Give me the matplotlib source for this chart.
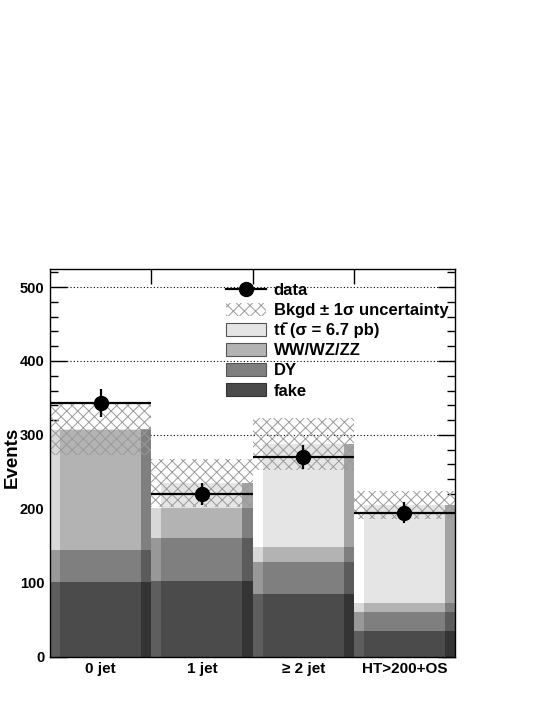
import numpy as np
import matplotlib
matplotlib.use("Agg")
from matplotlib import pyplot as plt
from matplotlib.patches import Patch
from matplotlib.lines import Line2D

plt.rcParams['font.family'] = ['Liberation Sans', 'DejaVu Sans']
plt.rcParams['font.weight'] = 'bold'
plt.rcParams['hatch.linewidth'] = 0.7

# bins and stacked backgrounds (events)
categories = ['0 jet', '1 jet', '\u2265 2 jet', 'HT>200+OS']
fake = [101, 102, 85, 35]
dy = [44, 59, 43, 25]
ww = [161, 40, 21, 13]
ttbar = [2, 34, 139, 132]
bkg_unc = [35, 33, 35, 19]
data = [343, 220, 270, 195]

# (values, main colour, left strip, right strip)
stack = [
    (fake, '#4b4b4b', '#5e5e5e', '#343434'),
    (dy, '#7f7f7f', '#989898', '#5b5b5b'),
    (ww, '#b3b3b3', '#d8d8d8', '#7f7f7f'),
    (ttbar, '#e5e5e5', '#ffffff', '#a3a3a3'),
]
hatch_col = '#9a9a9a'

fig = plt.figure(figsize=(5.45, 7.05), dpi=100)
ax = fig.add_axes([0.0917, 0.0685, 0.7433, 0.5495])

x = np.arange(len(categories)) + 0.5
bottom = np.zeros(len(categories))
for vals, c, cl, cd in stack:
    vals = np.array(vals, dtype=float)
    ax.bar(x, vals, width=1.0, bottom=bottom, color=c, linewidth=0, zorder=2)
    ax.bar(x - 0.45, vals, width=0.1, bottom=bottom, color=cl, linewidth=0, zorder=2)
    ax.bar(x + 0.45, vals, width=0.1, bottom=bottom, color=cd, linewidth=0, zorder=2)
    bottom += vals
total = bottom

unc = np.array(bkg_unc, dtype=float)
ax.bar(x, 2 * unc, width=1.0, bottom=total - unc, facecolor='none',
       edgecolor=hatch_col, hatch='xxx', linewidth=0, zorder=3)

data = np.array(data, dtype=float)
ax.errorbar(x, data, xerr=0.5, yerr=np.sqrt(data), fmt='o', color='black',
            markersize=10, elinewidth=1.6, capsize=0, zorder=5)

ax.set_xlim(0, 4)
ax.set_ylim(0, 524)
ax.set_yticks(np.arange(0, 501, 100))
ax.set_yticks(np.arange(0, 521, 20), minor=True)
ax.set_xticks([1, 2, 3])
ax.set_xticklabels([])
ax.set_xticks(x, minor=True)
ax.set_xticklabels(categories, minor=True, fontsize=11, fontweight='bold')
ax.tick_params(axis='x', which='minor', length=0, pad=4)
ax.tick_params(axis='x', which='major', direction='in', length=11, top=True, width=1)
ax.tick_params(axis='y', which='major', direction='in', length=12, right=True,
               labelsize=10.5, pad=4, width=1)
ax.tick_params(axis='y', which='minor', direction='in', length=6, right=True, width=1)
for lab in ax.get_yticklabels():
    lab.set_fontweight('bold')
ax.yaxis.grid(True, which='major', linestyle=(0, (1, 2)), color='black',
              linewidth=0.8, zorder=0)
ax.set_axisbelow(True)
for s in ax.spines.values():
    s.set_linewidth(1)
    s.set_zorder(6)

ax.set_ylabel('Events', fontsize=13.5, fontweight='bold')
ax.yaxis.set_label_coords(-0.0728, 0.514)

handles = [
    Line2D([], [], color='black', marker='o', markersize=10, linewidth=1.6),
    Patch(facecolor='white', edgecolor=hatch_col, hatch='xxx', linewidth=0),
    Patch(facecolor='#e5e5e5', edgecolor='#555555', linewidth=0.8),
    Patch(facecolor='#b3b3b3', edgecolor='#555555', linewidth=0.8),
    Patch(facecolor='#7f7f7f', edgecolor='#555555', linewidth=0.8),
    Patch(facecolor='#4b4b4b', edgecolor='#333333', linewidth=0.8),
]
labels = ['data', 'Bkgd \u00b1 1\u03c3 uncertainty', 'tt\u0304 (\u03c3 = 6.7 pb)',
          'WW/WZ/ZZ', 'DY', 'fake']
leg = ax.legend(handles, labels, loc='upper left', bbox_to_anchor=(0.405, 0.996),
                frameon=False, fontsize=12, handlelength=2.4, handleheight=0.85,
                handletextpad=0.48, labelspacing=0.28, borderpad=0.2)
leg.set_zorder(7)
for t in leg.get_texts():
    t.set_fontweight('bold')

fig.savefig('out.png', dpi=100)
